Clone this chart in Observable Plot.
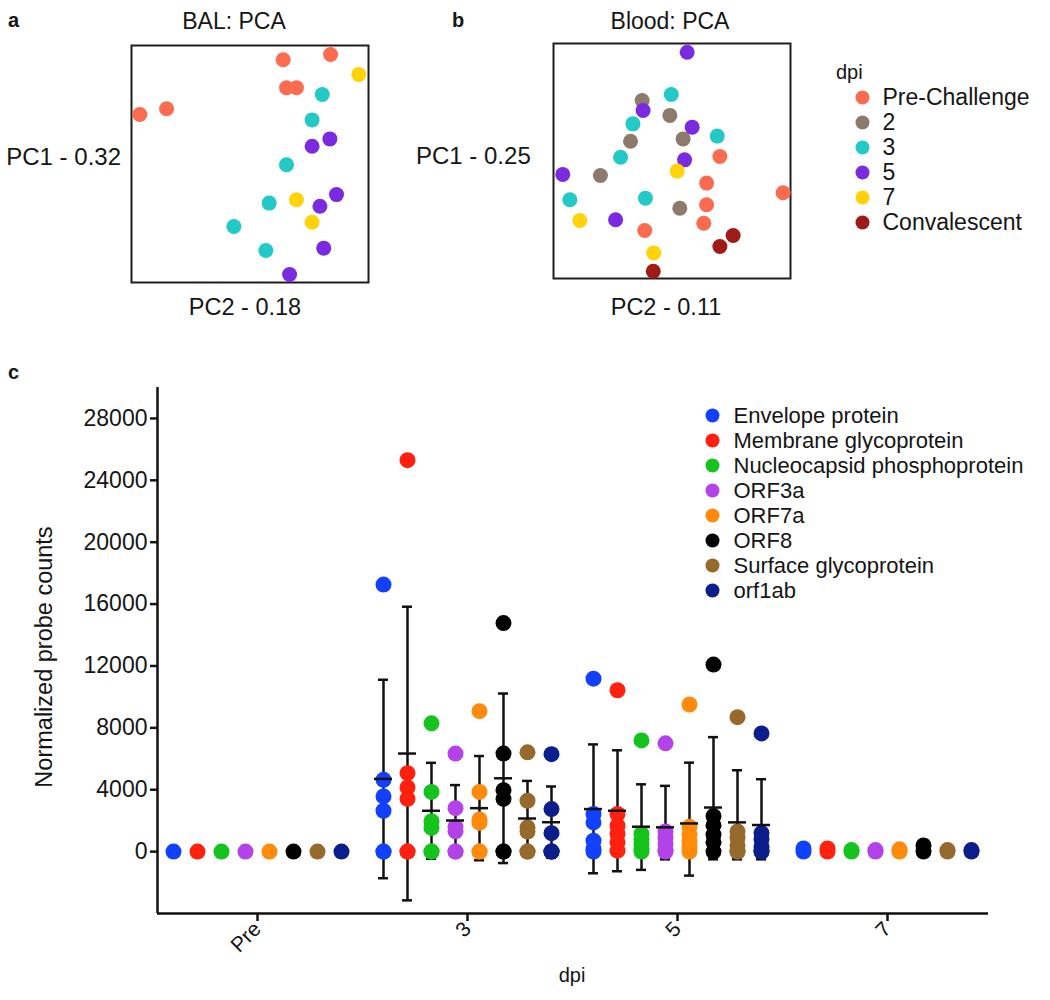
<!DOCTYPE html>
<html>
<head>
<meta charset="utf-8">
<script src="https://cdn.jsdelivr.net/npm/d3@7"></script>
<script src="https://cdn.jsdelivr.net/npm/@observablehq/plot@0.6"></script>
<style>
  html, body { margin: 0; padding: 0; background: #fff; }
  #root { position: relative; width: 1050px; height: 1000px; overflow: hidden; font-family: "Liberation Sans", Arial, sans-serif; color: #151515; }
  .abs { position: absolute; }
  .lbl { position: absolute; white-space: nowrap; line-height: 1; }
</style>
</head>
<body>
<div id="root"></div>
<script>
// ---------------- DATA ----------------
// Panel a/b: PCA scores (arbitrary units, 0-100 of each frame)
const dpiLevels = ["Pre-Challenge", "2", "3", "5", "7", "Convalescent"];
const dpiColors = ["#FA6B50", "#8C7B6B", "#22C9C6", "#7B2BDF", "#FFD20A", "#9E1B17"];

const balPre  = [[64.0, 94.0], [84.0, 96.2], [65.4, 82.2], [69.6, 82.2], [3.5, 70.9], [14.8, 73.3]];
const balDay3 = [[80.5, 79.3], [76.2, 68.6], [65.4, 49.7], [58.1, 33.5], [43.2, 23.6], [56.7, 13.5]];
const balDay5 = [[83.7, 60.6], [76.2, 57.5], [86.5, 37.1], [79.5, 32.2], [81.1, 14.5], [66.7, 3.4]];
const balDay7 = [[95.9, 87.8], [69.6, 34.9], [76.2, 25.4]];

const bloodPre  = [[70.2, 51.9], [64.6, 40.6], [64.6, 31.4], [63.4, 23.5], [38.5, 20.4], [96.9, 36.5]];
const bloodDay2 = [[37.4, 75.7], [49.1, 69.4], [54.7, 59.4], [32.5, 58.4], [19.8, 43.8], [53.3, 29.9]];
const bloodDay3 = [[49.7, 78.3], [33.5, 65.8], [69.1, 60.6], [28.3, 51.6], [6.9, 33.5], [38.8, 34.2]];
const bloodDay5 = [[56.4, 96.3], [37.8, 71.5], [58.5, 64.4], [55.3, 50.5], [3.9, 44.3], [26.2, 25.0]];
const bloodDay7 = [[52.2, 45.7], [11.1, 24.7], [42.3, 10.9]];
const bloodConv = [[75.8, 18.3], [70.2, 13.6], [42.1, 3.1]];

// Panel c: normalized probe counts
const genes = ["Envelope protein", "Membrane glycoprotein", "Nucleocapsid phosphoprotein", "ORF3a", "ORF7a", "ORF8", "Surface glycoprotein", "orf1ab"];
const geneColors = ["#1240FF", "#FF2010", "#15C31D", "#B343E8", "#FF8A0C", "#000000", "#96692C", "#0B1E8C"];
const dpiTicks = ["Pre", "3", "5", "7"];
const yTicks = [0, 4000, 8000, 12000, 16000, 20000, 24000, 28000];

const preCounts = [[0], [0], [0], [0], [0], [0], [0], [0]];
const day3Counts = [
  [17260, 4640, 3570, 2640, 0, 0],
  [25300, 5070, 4150, 3410, 0, 0],
  [8290, 3860, 1970, 1530, 0, 0],
  [6340, 2810, 1600, 1310, 0, 0],
  [9080, 3860, 2080, 1870, 0, 0],
  [14770, 6340, 3970, 3410, 0, 0],
  [6420, 3290, 1560, 1300, 0, 0],
  [6300, 2750, 1190, 0, 0, 0]
];
const day5Counts = [
  [11180, 2430, 1890, 710, 170, 0],
  [10430, 2430, 1670, 1140, 600, 60],
  [7190, 1150, 800, 500, 200, 0],
  [7000, 1300, 900, 500, 100, 0],
  [9510, 1600, 1100, 650, 250, 0],
  [12090, 2300, 1700, 1100, 600, 0],
  [8690, 1300, 900, 400, 0, 0],
  [7640, 1200, 800, 300, 0, 0]
];
const day7Counts = [[200, 0], [200, 0], [100, 0], [100, 0], [150, 0], [400, 0], [100, 0], [100, 0]];

// mean, upper and lower ends of the error bars (day 3 and day 5)
const day3Mean  = [4700, 6340, 2640, 2010, 2810, 4740, 2140, 1900];
const day3Upper = [11110, 15830, 5740, 4300, 6180, 10220, 4570, 4210];
const day3Lower = [-1720, -3150, -460, -280, -560, -740, -300, -400];
const day5Mean  = [2750, 2640, 1610, 1570, 1820, 2850, 1890, 1720];
const day5Upper = [6930, 6550, 4350, 4250, 5750, 7400, 5260, 4680];
const day5Lower = [-1400, -1270, -1180, -500, -1550, -500, -500, -500];

// ---------------- BUILD ----------------
const root = document.getElementById("root");
const FONT = '"Liberation Sans", Arial, sans-serif';

function place(node, left, top) {
  node.classList.add("abs");
  node.style.left = left + "px";
  node.style.top = top + "px";
  root.appendChild(node);
}
// label centered vertically at cy; anchor: "start" | "middle" | "end"
function label(text, x, cy, size, anchor = "start", extra = {}) {
  const d = document.createElement("div");
  d.className = "lbl";
  d.textContent = text;
  d.style.fontSize = size + "px";
  d.style.left = x + "px";
  d.style.top = cy + "px";
  const tx = anchor === "middle" ? "-50%" : anchor === "end" ? "-100%" : "0";
  d.style.transform = `translate(${tx}, -50%)` + (extra.rotate ? ` rotate(${extra.rotate}deg)` : "");
  if (extra.weight) d.style.fontWeight = extra.weight;
  root.appendChild(d);
}

function toRows(groups) {
  const rows = [];
  groups.forEach(([dpi, arr]) => arr.forEach(([x, y]) => rows.push({dpi, x, y})));
  return rows;
}

function pcaPlot(rows, w, h) {
  return Plot.plot({
    width: w + 20, height: h + 20, margin: 10,
    style: {background: "transparent", fontFamily: FONT},
    x: {domain: [0, 100], axis: null},
    y: {domain: [0, 100], axis: null},
    color: {domain: dpiLevels, range: dpiColors},
    marks: [
      Plot.frame({stroke: "#1e1e1e", strokeWidth: 2}),
      Plot.dot(rows, {x: "x", y: "y", fill: "dpi", r: 7.5})
    ]
  });
}

// Panel a
const balRows = toRows([["Pre-Challenge", balPre], ["3", balDay3], ["5", balDay5], ["7", balDay7]]);
place(pcaPlot(balRows, 237, 237), 121, 35);
// Panel b
const bloodRows = toRows([["Pre-Challenge", bloodPre], ["2", bloodDay2], ["3", bloodDay3], ["5", bloodDay5], ["7", bloodDay7], ["Convalescent", bloodConv]]);
place(pcaPlot(bloodRows, 237, 235), 543, 33);

label("a", 8, 20, 20, "start", {weight: "bold"});
label("BAL: PCA", 234, 21, 23, "middle");
label("b", 452, 20, 20, "start", {weight: "bold"});
label("Blood: PCA", 670, 21, 23, "middle");
label("PC1 - 0.32", 121, 157, 24, "end");
label("PC2 - 0.18", 245, 308, 23.5, "middle");
label("PC1 - 0.25", 416, 156, 24, "start");
label("PC2 - 0.11", 666, 308, 23.5, "middle");

// dpi legend
label("dpi", 836, 72, 20, "start");
const dpiLegend = Plot.plot({
  width: 210, height: 160, margin: 0,
  style: {background: "transparent", fontFamily: FONT, fontSize: "23px", color: "#151515"},
  x: {axis: null},
  y: {type: "point", domain: dpiLevels, range: [15, 143], padding: 0, axis: null},
  color: {domain: dpiLevels, range: dpiColors},
  marks: [
    Plot.dot(dpiLevels, {y: d => d, fill: d => d, r: 7, frameAnchor: "left", dx: 22}),
    Plot.text(dpiLevels, {y: d => d, text: d => d, frameAnchor: "left", dx: 42, textAnchor: "start", fill: "#151515"})
  ]
});
place(dpiLegend, 840, 80);

// Panel c
const DODGE = 24 / 210;
const countGroups = [preCounts, day3Counts, day5Counts, day7Counts];
const dotRows = [];
countGroups.forEach((byGene, di) => byGene.forEach((vals, gi) => vals.forEach(v =>
  dotRows.push({gene: genes[gi], x: di + (gi - 3.5) * DODGE, v}))));
const errRows = [];
[[1, day3Mean, day3Upper, day3Lower], [2, day5Mean, day5Upper, day5Lower]].forEach(([di, m, hi, lo]) =>
  genes.forEach((g, gi) => errRows.push({gene: g, x: di + (gi - 3.5) * DODGE, mean: m[gi], hi: hi[gi], lo: lo[gi]})));

const X0 = -100 / 210, X1 = 3 + 101 / 210;
const CAP = 5 / 210, MEANW = 9 / 210;
const chartC = Plot.plot({
  width: 1050, height: 640,
  marginLeft: 157, marginRight: 62, marginTop: 27, marginBottom: 87,
  style: {background: "transparent", fontFamily: FONT, fontSize: "22px", color: "#151515"},
  x: {domain: [X0, X1], axis: null},
  y: {domain: [-4000, 30000], axis: null},
  color: {domain: genes, range: geneColors},
  marks: [
    Plot.axisY({ticks: yTicks, tickFormat: d => String(d), tickSize: 7, tickPadding: 3, strokeWidth: 2.5, label: null, fontSize: 23}),
    Plot.axisX({ticks: [0, 1, 2, 3], tickFormat: i => dpiTicks[i], tickSize: 8, tickPadding: 4, tickRotate: -45, strokeWidth: 2.5, label: null, fontSize: 21}),
    Plot.ruleX([X0], {stroke: "#111", strokeWidth: 2.5}),
    Plot.ruleY([-4000], {stroke: "#111", strokeWidth: 2.5}),
    Plot.ruleX(errRows, {x: "x", y1: "lo", y2: "hi", stroke: "#111", strokeWidth: 2.5}),
    Plot.ruleY(errRows, {y: "hi", x1: d => d.x - CAP, x2: d => d.x + CAP, stroke: "#111", strokeWidth: 2.5}),
    Plot.ruleY(errRows, {y: "lo", x1: d => d.x - CAP, x2: d => d.x + CAP, stroke: "#111", strokeWidth: 2.5}),
    Plot.dot(dotRows, {x: "x", y: "v", fill: "gene", r: 8}),
    Plot.ruleY(errRows, {y: "mean", x1: d => d.x - MEANW, x2: d => d.x + MEANW, stroke: "#111", strokeWidth: 2.5})
  ]
});
place(chartC, 0, 360);

label("c", 8, 372, 20, "start", {weight: "bold"});
label("Normalized probe counts", 45, 657, 23.5, "middle", {rotate: -90});
label("dpi", 572, 975, 20, "middle");

// gene legend
const geneLegend = Plot.plot({
  width: 340, height: 215, margin: 0,
  style: {background: "transparent", fontFamily: FONT, fontSize: "22px", color: "#151515"},
  x: {axis: null},
  y: {type: "point", domain: genes, range: [14, 191], padding: 0, axis: null},
  color: {domain: genes, range: geneColors},
  marks: [
    Plot.dot(genes, {y: d => d, fill: d => d, r: 7, frameAnchor: "left", dx: 12}),
    Plot.text(genes, {y: d => d, text: d => d, frameAnchor: "left", dx: 33, textAnchor: "start", fill: "#151515"})
  ]
});
place(geneLegend, 700, 400);
</script>
</body>
</html>
